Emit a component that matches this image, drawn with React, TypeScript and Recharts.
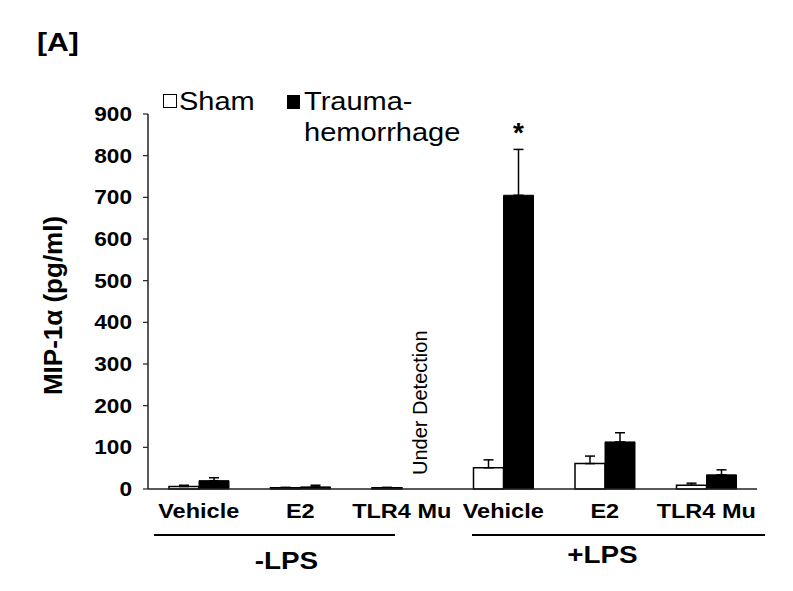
import React from "react";
import { BarChart, Bar, XAxis, YAxis, ErrorBar, LabelList } from "recharts";

const categories = ["Vehicle", "E2", "TLR4 Mu", "Vehicle", "E2", "TLR4 Mu"];
const groups = ["-LPS", "-LPS", "-LPS", "+LPS", "+LPS", "+LPS"];
const shamValues = [6, 3, 3, 51, 61, 9];
const shamErrors = [3, 1, 1, 19, 18, 5];
const traumaValues = [20, 5, 0, 705, 113, 34];
const traumaErrors = [7, 4, 0, 110, 22, 12];
const shamNotes = ["", "", "Under Detection", "", "", ""];
const traumaNotes = ["", "", "", "*", "", ""];
const yTicks = [0, 100, 200, 300, 400, 500, 600, 700, 800, 900];

const rows = categories.map((c, i) => ({
  key: groups[i] + " " + c,
  label: c,
  sham: shamValues[i],
  shamE: [0, shamErrors[i]],
  trauma: traumaValues[i],
  traumaE: [0, traumaErrors[i]],
  traumaErr: traumaErrors[i],
  shamNote: shamNotes[i],
  traumaNote: traumaNotes[i],
}));

const FONT = "'Liberation Sans', Arial, sans-serif";
const SX = 1.16;

const StarLabel = (props: any) => {
  const { x, y, width, height, value } = props;
  if (!value) return null;
  const row = rows.find((r) => r.traumaNote === value);
  if (!row) return null;
  const cx = Number(x) + Number(width) / 2;
  const top = Number(y) - row.traumaErr * (Number(height) / row.trauma);
  return (
    <text x={cx} y={top - 7} textAnchor="middle" fontFamily={FONT} fontWeight="bold" fontSize={28} fill="#000">
      {value}
    </text>
  );
};

const UnderLabel = (props: any) => {
  const { x, y, width, height, value } = props;
  if (!value) return null;
  const tx = Number(x) + Number(width) * 1.5 + 10;
  const ty = Number(y) + Number(height) - 14;
  return (
    <text x={tx} y={ty} transform={`rotate(-90 ${tx} ${ty})`} textAnchor="start" fontFamily={FONT} fontSize={20} fill="#000">
      {value}
    </text>
  );
};

const YTick = (props: any) => {
  const { x, y, payload } = props;
  return (
    <text
      transform={`translate(${x},${y}) scale(${SX},1)`}
      textAnchor="end"
      dy="0.36em"
      fontFamily={FONT}
      fontWeight="bold"
      fontSize={19.5}
      fill="#000"
    >
      {payload.value}
    </text>
  );
};

const XTick = (props: any) => {
  const { x, y, payload } = props;
  const lbl = String(payload.value).replace(/^[-+]LPS /, "");
  return (
    <text
      transform={`translate(${x},${y}) scale(1.12,1)`}
      textAnchor="middle"
      dy="0.71em"
      fontFamily={FONT}
      fontWeight="bold"
      fontSize={21}
      fill="#000"
    >
      {lbl}
    </text>
  );
};

const sx = (origin: string): React.CSSProperties => ({
  display: "inline-block",
  transform: `scaleX(${SX})`,
  transformOrigin: origin,
  whiteSpace: "nowrap",
});

export default function App() {
  return (
    <div style={{ position: "absolute", left: 0, top: 0, width: 793, height: 591, background: "#fff", fontFamily: FONT }}>
      <BarChart
        width={793}
        height={591}
        data={rows}
        margin={{ top: 114, right: 36, bottom: 72, left: 0 }}
        barGap={0}
        barCategoryGap="20%"
      >
        <XAxis
          dataKey="key"
          height={30}
          tickLine={false}
          axisLine={{ stroke: "#222", strokeWidth: 1.5 }}
          tick={XTick}
          tickMargin={8}
          interval={0}
        />
        <YAxis
          width={148}
          domain={[0, 900]}
          ticks={yTicks}
          interval={0}
          tickSize={5}
          tickMargin={11}
          axisLine={{ stroke: "#222", strokeWidth: 1.5 }}
          tickLine={{ stroke: "#222", strokeWidth: 1.2 }}
          tick={YTick}
          label={{
            value: "MIP-1α (pg/ml)",
            angle: -90,
            position: "insideLeft",
            dx: 48,
            dy: 4,
            style: { textAnchor: "middle", fill: "#000", fontSize: 26, fontWeight: "bold", fontFamily: FONT },
          }}
        />
        <Bar dataKey="sham" fill="#fff" stroke="#000" strokeWidth={1.5} barSize={30} isAnimationActive={false}>
          <ErrorBar dataKey="shamE" direction="y" width={5} stroke="#000" strokeWidth={1.5} />
          <LabelList dataKey="shamNote" content={UnderLabel} />
        </Bar>
        <Bar dataKey="trauma" fill="#000" stroke="#000" strokeWidth={1} barSize={30} isAnimationActive={false}>
          <ErrorBar dataKey="traumaE" direction="y" width={5} stroke="#000" strokeWidth={1.5} />
          <LabelList dataKey="traumaNote" content={StarLabel} />
        </Bar>
      </BarChart>

      <div style={{ position: "absolute", left: 37, top: 27, fontSize: 26, fontWeight: "bold", color: "#000", lineHeight: "30px" }}>
        <span style={sx("left")}>[A]</span>
      </div>

      <div style={{ position: "absolute", left: 163, top: 94, width: 12, height: 12, border: "1.5px solid #000", background: "#fff" }} />
      <div style={{ position: "absolute", left: 179, top: 86, fontSize: 25, color: "#000", lineHeight: "30px" }}>
        <span style={sx("left")}>Sham</span>
      </div>
      <div style={{ position: "absolute", left: 287, top: 95, width: 13, height: 14, background: "#000" }} />
      <div style={{ position: "absolute", left: 304, top: 86, fontSize: 25, color: "#000", lineHeight: "31px" }}>
        <span style={sx("left")}>Trauma-</span>
        <br />
        <span style={sx("left")}>hemorrhage</span>
      </div>

      <div style={{ position: "absolute", left: 154, top: 534, width: 241, height: 1.5, background: "#000" }} />
      <div style={{ position: "absolute", left: 472, top: 534, width: 293, height: 1.5, background: "#000" }} />
      <div style={{ position: "absolute", left: 236, top: 547, width: 100, textAlign: "center", fontSize: 24, fontWeight: "bold", color: "#000", lineHeight: "28px" }}>
        <span style={sx("center")}>-LPS</span>
      </div>
      <div style={{ position: "absolute", left: 552, top: 541, width: 100, textAlign: "center", fontSize: 24, fontWeight: "bold", color: "#000", lineHeight: "28px" }}>
        <span style={sx("center")}>+LPS</span>
      </div>
    </div>
  );
}
